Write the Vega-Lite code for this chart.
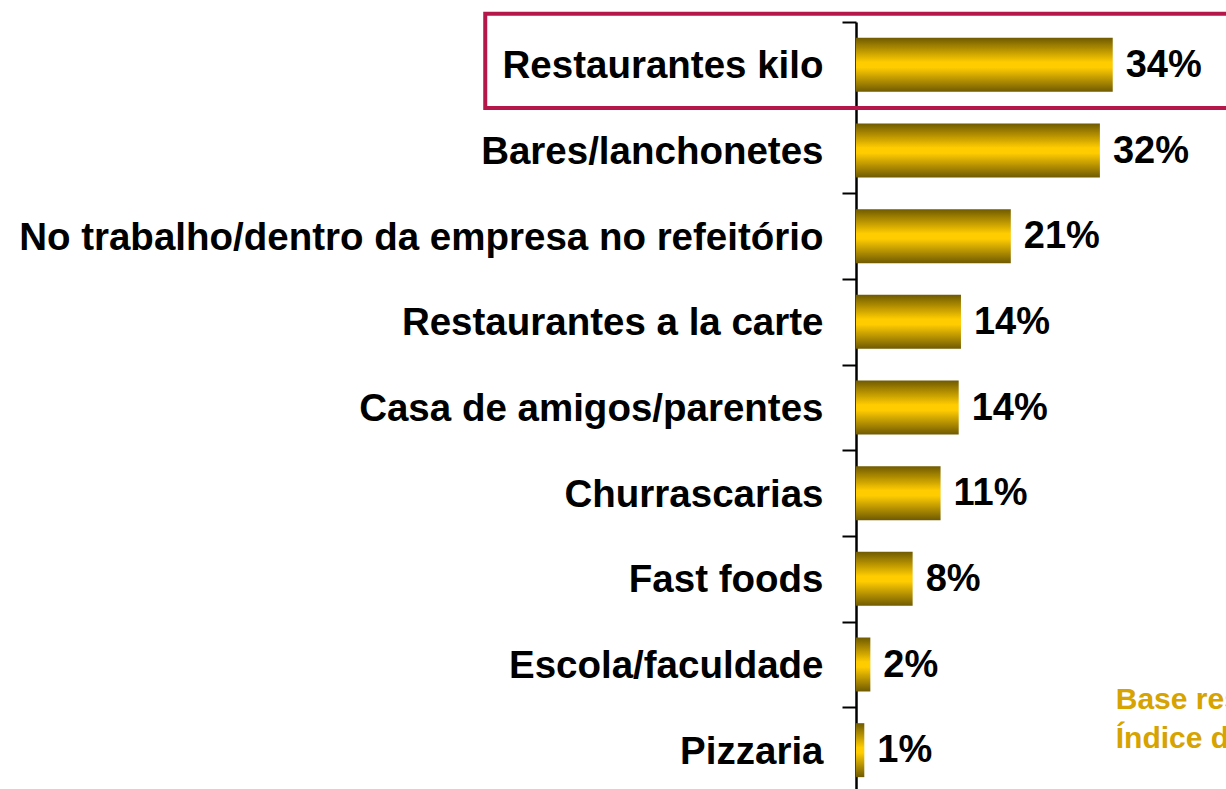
{
  "$schema": "https://vega.github.io/schema/vega-lite/v6.json",
  "width": 370,
  "height": 771,
  "autosize": {"type": "none"},
  "padding": {"left": 856, "top": 22, "right": 0, "bottom": 0},
  "background": "white",
  "config": {"view": {"stroke": null}, "font": "Liberation Sans"},
  "data": {"values": [
    {"cat": "Restaurantes kilo", "value": 34.0, "label": "34%"},
    {"cat": "Bares/lanchonetes", "value": 32.3, "label": "32%"},
    {"cat": "No trabalho/dentro da empresa no refeitório", "value": 20.5, "label": "21%"},
    {"cat": "Restaurantes a la carte", "value": 13.9, "label": "14%"},
    {"cat": "Casa de amigos/parentes", "value": 13.6, "label": "14%"},
    {"cat": "Churrascarias", "value": 11.2, "label": "11%"},
    {"cat": "Fast foods", "value": 7.5, "label": "8%"},
    {"cat": "Escola/faculdade", "value": 1.9, "label": "2%"},
    {"cat": "Pizzaria", "value": 1.1, "label": "1%"}
  ]},
  "encoding": {
    "y": {
      "field": "cat", "type": "nominal", "sort": null, "title": null,
      "scale": {"paddingInner": 0, "paddingOuter": 0},
      "axis": {
        "orient": "left",
        "tickBand": "extent",
        "tickSize": 14,
        "tickWidth": 2,
        "tickColor": "black",
        "domainColor": "black",
        "domainWidth": 2.5,
        "labelFont": "Liberation Sans",
        "labelFontSize": 38.5,
        "labelFontWeight": "bold",
        "labelColor": "black",
        "labelPadding": 19,
        "labelBaseline": "alphabetic",
        "labelOffset": 13,
        "labelLimit": 0
      }
    }
  },
  "layer": [
    {
      "mark": {
        "type": "bar",
        "height": {"band": 0.63},
        "color": {
          "gradient": "linear", "x1": 0, "y1": 0, "x2": 0, "y2": 1,
          "stops": [
            {"offset": 0, "color": "#6f5a00"},
            {"offset": 0.45, "color": "#ffcc00"},
            {"offset": 0.55, "color": "#ffcc00"},
            {"offset": 1, "color": "#6f5a00"}
          ]
        }
      },
      "encoding": {
        "x": {"field": "value", "type": "quantitative", "scale": {"domain": [0, 49], "nice": false, "zero": true}, "axis": null}
      }
    },
    {
      "mark": {"type": "text", "align": "left", "baseline": "alphabetic", "dx": 13, "dy": 12, "font": "Liberation Sans", "fontSize": 38, "fontWeight": "bold", "color": "black"},
      "encoding": {
        "x": {"field": "value", "type": "quantitative"},
        "text": {"field": "label"}
      }
    },
    {
      "data": {"values": [{"cat": "Restaurantes kilo", "x1": -49.1, "x2": 60}]},
      "mark": {"type": "rect", "filled": false, "stroke": "#b5174b", "strokeWidth": 4, "height": {"band": 1.1}, "yOffset": -4, "clip": false},
      "encoding": {
        "x": {"field": "x1", "type": "quantitative"},
        "x2": {"field": "x2"}
      }
    },
    {
      "data": {"values": [{"cat": "Escola/faculdade", "x": 34.4, "note": "Base respondentes\nÍndice de respostas"}]},
      "mark": {"type": "text", "align": "left", "baseline": "alphabetic", "dy": 44, "lineBreak": "\n", "lineHeight": 39, "font": "Liberation Sans", "fontSize": 30, "fontWeight": "bold", "color": "#d6a300"},
      "encoding": {
        "x": {"field": "x", "type": "quantitative"},
        "text": {"field": "note"}
      }
    }
  ]
}
